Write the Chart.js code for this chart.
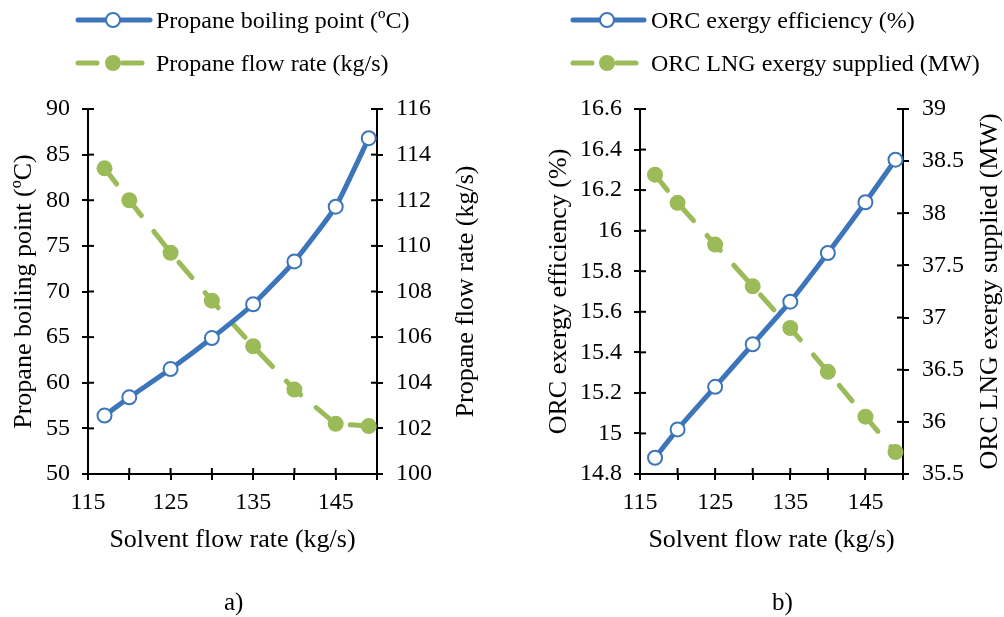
<!DOCTYPE html>
<html>
<head>
<meta charset="utf-8">
<script src="https://cdn.jsdelivr.net/npm/chart.js@4.4.0/dist/chart.umd.min.js"></script>
<style>
  body { margin: 0; width: 1004px; height: 617px; overflow: hidden; background: #fff; font-family: "Liberation Serif", "Times New Roman", serif; color: #000; }
  .panel { position: absolute; top: 0; width: 502px; height: 617px; }
  .panel canvas { position: absolute; left: 0; top: 0; }
  .legend { position: absolute; top: 0; font-size: 24px; }
  .legend .row { position: absolute; left: 0; height: 30px; white-space: nowrap; display: flex; align-items: center; }
  .legend svg { margin-right: 3px; }
  .cap { position: absolute; top: 588px; font-size: 25px; }
</style>
</head>
<body>

<div class="panel" style="left:0"><canvas id="chartA" width="502" height="617"></canvas></div>
<div class="panel" style="left:502px"><canvas id="chartB" width="502" height="617"></canvas></div>

<div class="legend" style="left:75px">
  <div class="row" style="top:5px">
    <svg width="78" height="20"><line x1="3" y1="10" x2="75" y2="10" stroke="#3C75B9" stroke-width="5" stroke-linecap="round"/><circle cx="38" cy="10" r="7" fill="#fff" stroke="#3C75B9" stroke-width="2"/></svg>
    <span>Propane boiling point (ºC)</span>
  </div>
  <div class="row" style="top:48px">
    <svg width="78" height="20"><line x1="3" y1="10" x2="22" y2="10" stroke="#9BBB59" stroke-width="5" stroke-linecap="round"/><line x1="48" y1="10" x2="67" y2="10" stroke="#9BBB59" stroke-width="5" stroke-linecap="round"/><circle cx="38" cy="10" r="8" fill="#9BBB59"/></svg>
    <span>Propane flow rate (kg/s)</span>
  </div>
</div>
<div class="legend" style="left:570px">
  <div class="row" style="top:5px">
    <svg width="78" height="20"><line x1="3" y1="10" x2="74" y2="10" stroke="#3C75B9" stroke-width="5" stroke-linecap="round"/><circle cx="37" cy="10" r="7" fill="#fff" stroke="#3C75B9" stroke-width="2"/></svg>
    <span>ORC exergy efficiency (%)</span>
  </div>
  <div class="row" style="top:48px">
    <svg width="78" height="20"><line x1="3" y1="10" x2="22" y2="10" stroke="#9BBB59" stroke-width="5" stroke-linecap="round"/><line x1="47" y1="10" x2="66" y2="10" stroke="#9BBB59" stroke-width="5" stroke-linecap="round"/><circle cx="37" cy="10" r="8" fill="#9BBB59"/></svg>
    <span>ORC LNG exergy supplied (MW)</span>
  </div>
</div>

<div class="cap" style="left:224px">a)</div>
<div class="cap" style="left:772px">b)</div>

<script>
// shared x values
const solventFlow = [117, 120, 125, 130, 135, 140, 145, 149];

// panel a
const boilingPoint = [56.4, 58.4, 61.5, 64.9, 68.6, 73.3, 79.3, 86.8];
const propaneFlow = [113.4, 112.0, 109.7, 107.6, 105.6, 103.7, 102.2, 102.1];

// panel b
const exergyEff = [14.88, 15.02, 15.23, 15.44, 15.65, 15.89, 16.14, 16.35];
const lngExergy = [38.37, 38.10, 37.70, 37.30, 36.90, 36.48, 36.05, 35.71];

const BLUE = '#3C75B9';
const GREEN = '#9BBB59';
const FONT = '"Liberation Serif", "Times New Roman", serif';

const pts = ys => ys.map((y, i) => ({ x: solventFlow[i], y }));
const fmt = v => String(Number(v.toFixed(2)));

// ticks cross the axis line, and the right title reads bottom to top
const axisExtras = {
    id: 'axisExtras',
    beforeDatasetsDraw(chart, args, opts) {
        const ctx = chart.ctx;
        ctx.save();
        ctx.strokeStyle = '#000';
        ctx.lineWidth = 2;
        Object.values(chart.scales).forEach(s => {
            s.ticks.forEach(t => {
                const p = s.getPixelForValue(t.value);
                ctx.beginPath();
                if (s.isHorizontal()) { ctx.moveTo(p, s.top); ctx.lineTo(p, s.top - 6); }
                else if (s.position === 'left') { ctx.moveTo(s.right, p); ctx.lineTo(s.right + 6, p); }
                else { ctx.moveTo(s.left, p); ctx.lineTo(s.left - 6, p); }
                ctx.stroke();
            });
        });
        const area = chart.chartArea;
        ctx.translate(area.right + opts.titleOffset, (area.top + area.bottom) / 2);
        ctx.rotate(-Math.PI / 2);
        ctx.font = '26px ' + FONT;
        ctx.fillStyle = '#000';
        ctx.textAlign = 'center';
        ctx.textBaseline = 'middle';
        ctx.fillText(opts.title, 0, 0);
        ctx.restore();
    }
};

function makeChart(id, cfg) {
    const tickFont = { family: FONT, size: 24 };
    const grid = { drawOnChartArea: false, color: '#000', lineWidth: 2, tickLength: 6 };
    const border = { color: '#000', width: 2 };
    return new Chart(document.getElementById(id), {
        type: 'line',
        data: {
            datasets: [{
                label: cfg.leftLabel,
                data: pts(cfg.left),
                yAxisID: 'y',
                borderColor: BLUE,
                borderWidth: 5,
                pointRadius: 7,
                pointBorderWidth: 2,
                pointBackgroundColor: '#fff',
                pointBorderColor: BLUE,
                tension: 0.15,
                clip: false
            }, {
                label: cfg.rightLabel,
                data: pts(cfg.right),
                yAxisID: 'y2',
                borderColor: GREEN,
                borderWidth: 5,
                borderDash: [20, 20],
                borderCapStyle: 'round',
                pointRadius: 8,
                pointBorderWidth: 0,
                pointBackgroundColor: GREEN,
                pointBorderColor: GREEN,
                clip: false
            }]
        },
        options: {
            responsive: false,
            animation: false,
            events: [],
            layout: { padding: { top: 109, bottom: 61, left: cfg.padLeft, right: 0 } },
            plugins: {
                legend: { display: false },
                tooltip: { enabled: false },
                axisExtras: { title: cfg.rightLabel, titleOffset: cfg.rightTitleOffset }
            },
            scales: {
                x: {
                    type: 'linear', min: 115, max: 150,
                    grid, border,
                    ticks: {
                        stepSize: 5, autoSkip: false, maxRotation: 0, padding: 8,
                        color: '#000', font: tickFont,
                        callback: v => ((v - 115) % 10 === 0 ? String(v) : '')
                    },
                    title: { display: true, text: 'Solvent flow rate (kg/s)', color: '#000', font: { family: FONT, size: 26 }, padding: 0 },
                    afterFit: s => { s.height = 82; }
                },
                y: {
                    position: 'left', min: cfg.leftMin, max: cfg.leftMax,
                    grid, border,
                    ticks: { stepSize: cfg.leftStep, padding: 12, color: '#000', font: tickFont, callback: fmt },
                    title: { display: true, text: cfg.leftLabel, color: '#000', font: { family: FONT, size: 26 }, padding: 0 },
                    afterFit: s => { s.width = cfg.leftWidth; }
                },
                y2: {
                    position: 'right', min: cfg.rightMin, max: cfg.rightMax,
                    grid, border,
                    ticks: { stepSize: cfg.rightStep, padding: 13, color: '#000', font: tickFont, callback: fmt },
                    afterFit: s => { s.width = cfg.rightWidth; }
                }
            }
        },
        plugins: [axisExtras]
    });
}

makeChart('chartA', {
    left: boilingPoint, right: propaneFlow,
    leftLabel: 'Propane boiling point (ºC)', rightLabel: 'Propane flow rate (kg/s)',
    leftMin: 50, leftMax: 90, leftStep: 5,
    rightMin: 100, rightMax: 116, rightStep: 2,
    padLeft: 9, leftWidth: 79, rightWidth: 125, rightTitleOffset: 89
});

makeChart('chartB', {
    left: exergyEff, right: lngExergy,
    leftLabel: 'ORC exergy efficiency (%)', rightLabel: 'ORC LNG exergy supplied (MW)',
    leftMin: 14.8, leftMax: 16.6, leftStep: 0.2,
    rightMin: 35.5, rightMax: 39, rightStep: 0.5,
    padLeft: 42, leftWidth: 96, rightWidth: 101, rightTitleOffset: 87
});
</script>
</body>
</html>
